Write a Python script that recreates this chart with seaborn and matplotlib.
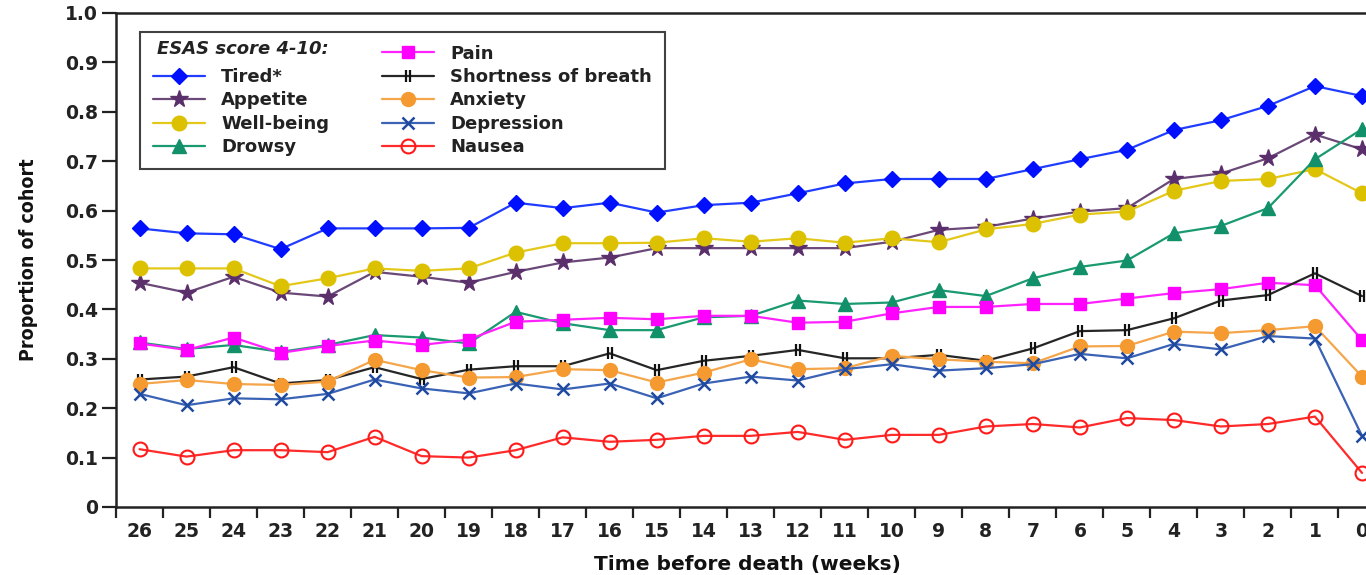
import numpy as np
import pandas as pd
import seaborn as sns
import matplotlib
matplotlib.use("Agg")
import matplotlib.pyplot as plt
from matplotlib.path import Path
from matplotlib.lines import Line2D
from matplotlib import font_manager

# ---------------- data ----------------
weeks = list(range(26, -1, -1))
tired = [0.564, 0.554, 0.552, 0.522, 0.564, 0.564, 0.564, 0.565, 0.616, 0.605, 0.616, 0.596, 0.611, 0.616,
         0.635, 0.655, 0.664, 0.664, 0.664, 0.684, 0.704, 0.723, 0.763, 0.783, 0.812, 0.852, 0.832]
appetite = [0.454, 0.434, 0.466, 0.434, 0.426, 0.476, 0.466, 0.454, 0.476, 0.495, 0.505, 0.524, 0.524, 0.524,
            0.524, 0.524, 0.537, 0.561, 0.567, 0.584, 0.598, 0.605, 0.664, 0.675, 0.706, 0.754, 0.724]
wellbeing = [0.483, 0.483, 0.483, 0.447, 0.463, 0.483, 0.478, 0.483, 0.515, 0.534, 0.534, 0.535, 0.544, 0.537,
             0.544, 0.535, 0.544, 0.536, 0.562, 0.573, 0.592, 0.598, 0.640, 0.660, 0.664, 0.684, 0.635]
drowsy = [0.333, 0.320, 0.328, 0.314, 0.328, 0.348, 0.343, 0.331, 0.395, 0.372, 0.358, 0.358, 0.384, 0.387,
          0.418, 0.411, 0.414, 0.439, 0.427, 0.463, 0.486, 0.499, 0.554, 0.569, 0.605, 0.704, 0.765]
pain = [0.331, 0.318, 0.343, 0.312, 0.326, 0.337, 0.328, 0.339, 0.375, 0.379, 0.383, 0.380, 0.387, 0.387,
        0.373, 0.375, 0.392, 0.405, 0.405, 0.411, 0.411, 0.422, 0.433, 0.441, 0.454, 0.449, 0.338]
breath = [0.258, 0.264, 0.283, 0.250, 0.257, 0.283, 0.259, 0.278, 0.285, 0.285, 0.311, 0.277, 0.296, 0.306,
          0.318, 0.301, 0.301, 0.308, 0.296, 0.321, 0.356, 0.358, 0.382, 0.418, 0.429, 0.473, 0.427]
anxiety = [0.249, 0.257, 0.249, 0.247, 0.254, 0.298, 0.277, 0.262, 0.263, 0.279, 0.277, 0.252, 0.272, 0.299,
           0.279, 0.281, 0.306, 0.299, 0.294, 0.291, 0.325, 0.326, 0.355, 0.352, 0.358, 0.366, 0.264]
depression = [0.229, 0.206, 0.220, 0.218, 0.229, 0.258, 0.240, 0.230, 0.250, 0.238, 0.250, 0.220, 0.250, 0.264,
              0.256, 0.279, 0.289, 0.276, 0.281, 0.289, 0.310, 0.301, 0.330, 0.319, 0.346, 0.341, 0.144]
nausea = [0.117, 0.102, 0.115, 0.115, 0.111, 0.142, 0.103, 0.100, 0.115, 0.141, 0.132, 0.136, 0.144, 0.144,
          0.152, 0.136, 0.146, 0.146, 0.163, 0.168, 0.161, 0.180, 0.176, 0.163, 0.168, 0.183, 0.069]

labels = ["Tired*", "Appetite", "Well-being", "Drowsy", "Pain", "Shortness of breath",
          "Anxiety", "Depression", "Nausea"]
series = [tired, appetite, wellbeing, drowsy, pain, breath, anxiety, depression, nausea]
ytick_values = [0.0, 0.1, 0.2, 0.3, 0.4, 0.5, 0.6, 0.7, 0.8, 0.9, 1.0]
ytick_labels = ["0", "0.1", "0.2", "0.3", "0.4", "0.5", "0.6", "0.7", "0.8", "0.9", "1.0"]
legend_title = "ESAS score 4-10:"

# ---------------- styles ----------------
sob_marker = Path([(-0.4, -1), (-0.4, 1), (0.4, -1), (0.4, 1)],
                  [Path.MOVETO, Path.LINETO, Path.MOVETO, Path.LINETO])
styles = [
    dict(color="#1f3cff", marker="D", ms=8.5, mfc="#0010ff", mec="#0010ff", mew=1.0),
    dict(color="#6a4878", marker="*", ms=13, mfc="#5b2f6b", mec="#5b2f6b", mew=1.0),
    dict(color="#e3c81a", marker="o", ms=10.5, mfc="#dcc100", mec="#dcc100", mew=1.0),
    dict(color="#199a70", marker="^", ms=10, mfc="#11906a", mec="#11906a", mew=1.0),
    dict(color="#ff22ff", marker="s", ms=8.5, mfc="#ff00ff", mec="#ff00ff", mew=1.0),
    dict(color="#262626", marker=sob_marker, ms=8, mfc="none", mec="#111111", mew=1.6),
    dict(color="#f5a54a", marker="o", ms=10, mfc="#f59a30", mec="#f59a30", mew=1.0),
    dict(color="#3a62b5", marker="x", ms=9, mfc="#1f4aa0", mec="#1f4aa0", mew=1.8),
    dict(color="#ff2a2a", marker="o", ms=10, mfc="none", mec="#ff1a1a", mew=1.5),
]

sns.set_style("ticks")
plt.rcParams["font.family"] = ["DejaVu Sans"]

# condensed font for the y label if available
ylab_kw = dict(family=["DejaVu Sans"], fontstretch="condensed")
for fam in ["Liberation Sans Narrow", "DejaVu Sans Condensed"]:
    try:
        font_manager.findfont(font_manager.FontProperties(family=fam, weight="bold"),
                              fallback_to_default=False)
        ylab_kw = dict(family=[fam, "DejaVu Sans"])
        break
    except Exception:
        pass

fig = plt.figure(figsize=(13.66, 5.75), dpi=100)
W, H = 1366, 575
ax_left, ax_right, ax_top, ax_bottom = 116, 1366, 13, 507
ax = fig.add_axes([ax_left / W, (H - ax_bottom) / H, (ax_right - ax_left) / W, (ax_bottom - ax_top) / H])

handles = []
for lab, vals, st in zip(labels, series, styles):
    df = pd.DataFrame({"week": weeks, "prop": vals})
    sns.lineplot(data=df, x="week", y="prop", ax=ax, legend=False, lw=1.6,
                 color=st["color"], marker=st["marker"], ms=st["ms"],
                 mfc=st["mfc"], mec=st["mec"], mew=st["mew"], clip_on=False)
    ln = ax.lines[-1]
    ln.set_label(lab)
    handles.append(ln)

# axes limits / ticks
ax.set_xlim(26.5, -0.085)
ax.set_ylim(0, 1.0)
ax.set_xticks(weeks)
ax.set_xticklabels([str(w) for w in weeks])
ax.set_xticks([w + 0.5 for w in weeks], minor=True)
ax.tick_params(axis="x", which="major", length=0, pad=11, labelsize=13.5, labelcolor="#222222")
ax.tick_params(axis="x", which="minor", length=8, width=1.6, direction="out", color="#222222")
ax.set_yticks(ytick_values)
ax.set_yticklabels(ytick_labels)
ax.tick_params(axis="y", length=10, width=1.6, direction="out", pad=3, labelsize=13.5,
               labelcolor="#222222", color="#222222")
for t in ax.get_xticklabels() + ax.get_yticklabels():
    t.set_fontweight("bold")

for side in ["left", "bottom", "top"]:
    ax.spines[side].set_visible(True)
    ax.spines[side].set_linewidth(1.8)
    ax.spines[side].set_color("#222222")
ax.spines["right"].set_visible(False)

ax.set_xlabel("Time before death (weeks)", fontsize=14.5, fontweight="bold", color="#111111")
ax.xaxis.set_label_coords((747 - ax_left) / (ax_right - ax_left), -0.098)
ax.set_ylabel("Proportion of cohort", fontsize=14, fontweight="bold", color="#111111", **ylab_kw)
ax.yaxis.set_label_coords(-0.062, 0.5)

# legend
blank = Line2D([], [], linestyle="none", marker=None)
leg_handles = [blank] + handles
leg_labels = [" "] + labels
leg = ax.legend(leg_handles, leg_labels, ncol=2, loc="upper left",
                bbox_to_anchor=((140 - ax_left) / (ax_right - ax_left), (ax_bottom - 32) / (ax_bottom - ax_top)),
                borderaxespad=0, frameon=True, fancybox=False, edgecolor="#111111",
                handlelength=2.9, handletextpad=0.9, columnspacing=2.9,
                labelspacing=0.3, borderpad=0.7, prop={"size": 13, "weight": "bold"})
leg.get_frame().set_linewidth(1.5)
for t in leg.get_texts():
    t.set_color("#222222")

ax.text((157 - ax_left) / (ax_right - ax_left), (ax_bottom - 49) / (ax_bottom - ax_top), legend_title,
        transform=ax.transAxes, fontsize=13, fontstyle="italic", fontweight="bold",
        va="center", ha="left", color="#222222", zorder=10)

fig.savefig("out.png", dpi=100, facecolor="white")
